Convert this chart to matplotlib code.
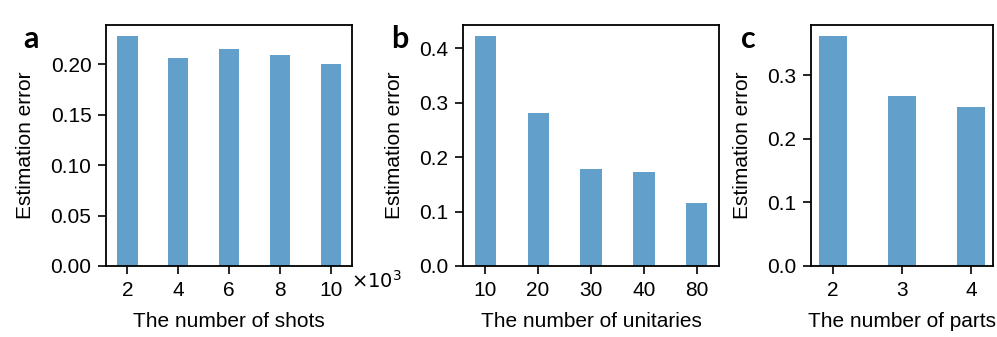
import matplotlib.pyplot as plt

plt.rcParams['font.family'] = ['Liberation Sans', 'DejaVu Sans']
plt.rcParams['font.size'] = 15

# panel a
shots = [2, 4, 6, 8, 10]
err_shots = [0.2276, 0.2060, 0.2150, 0.2093, 0.2007]

# panel b
unitaries = ['10', '20', '30', '40', '80']
err_unitaries = [0.4216, 0.2810, 0.1780, 0.1732, 0.1165]

# panel c
parts = ['2', '3', '4']
err_parts = [0.3606, 0.2673, 0.2504]

BAR_COLOR = 'tab:blue'

fig = plt.figure(figsize=(9.97, 3.37), dpi=100)
ax_a = fig.add_axes([0.1063, 0.2107, 0.2468, 0.7151])
ax_b = fig.add_axes([0.4644, 0.2107, 0.2568, 0.7151])
ax_c = fig.add_axes([0.8134, 0.2107, 0.1826, 0.7151])


def style(ax, xlabel):
    for sp in ax.spines.values():
        sp.set_linewidth(1.3)
    ax.tick_params(length=6, width=1.2, pad=4.5, labelsize=15)
    ax.set_ylabel('Estimation error', fontsize=15, labelpad=11)
    ax.set_xlabel(xlabel, fontsize=15, labelpad=9)


ax_a.bar(shots, err_shots, width=0.8, color=BAR_COLOR, alpha=0.7)
ax_a.set_xticks(shots)
ax_a.set_yticks([0.0, 0.05, 0.10, 0.15, 0.20])
ax_a.set_yticklabels(['0.00', '0.05', '0.10', '0.15', '0.20'])
# offset text for the x axis (values are in thousands)
ax_a.text(0.995, -0.091, r'$\times10^3$', transform=ax_a.transAxes,
          ha='left', va='baseline', fontsize=14)
style(ax_a, 'The number of shots')

ax_b.bar(range(len(unitaries)), err_unitaries, width=0.4, color=BAR_COLOR, alpha=0.7)
ax_b.set_xticks(range(len(unitaries)))
ax_b.set_xticklabels(unitaries)
ax_b.set_yticks([0.0, 0.1, 0.2, 0.3, 0.4])
style(ax_b, 'The number of unitaries')

ax_c.bar(range(len(parts)), err_parts, width=0.4, color=BAR_COLOR, alpha=0.7)
ax_c.set_xticks(range(len(parts)))
ax_c.set_xticklabels(parts)
ax_c.set_yticks([0.0, 0.1, 0.2, 0.3])
style(ax_c, 'The number of parts')

for letter, xpos in [('a', 23), ('b', 391), ('c', 741)]:
    fig.text(xpos / 997, 1 - 48 / 337, letter, fontsize=22, fontweight='bold',
             family=['Lato', 'DejaVu Sans'], ha='left', va='baseline')

fig.savefig('out.png', dpi=100)
